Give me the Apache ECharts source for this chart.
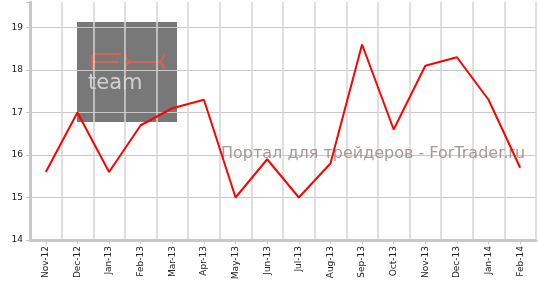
<!DOCTYPE html>
<html><head><meta charset="utf-8">
<script src="https://cdn.jsdelivr.net/npm/echarts@6/dist/echarts.min.js"></script>
<style>html,body{margin:0;padding:0;background:#fff}#c{width:538px;height:283px}</style>
</head><body><div id="c"></div>
<script>
var categories = ['Nov-12','Dec-12','Jan-13','Feb-13','Mar-13','Apr-13','May-13','Jun-13','Jul-13','Aug-13','Sep-13','Oct-13','Nov-13','Dec-13','Jan-14','Feb-14'];
var values = [15.6, 17.0, 15.6, 16.7, 17.1, 17.3, 15.0, 15.9, 15.0, 15.8, 18.6, 16.6, 18.1, 18.3, 17.3, 15.7];
var yTicks = [14, 15, 16, 17, 18, 19];
var watermarkText = 'Портал для трейдеров - ForTrader.ru';

var chart = echarts.init(document.getElementById('c'), null, {renderer: 'canvas'});
var font = 'DejaVu Sans';
var logoColor = '#d8634f';
function logoPath(pts) {
  return {type: 'polyline', shape: {points: pts},
    style: {fill: null, stroke: logoColor, lineWidth: 2, lineJoin: 'round'}};
}
function renderLogo() {
  return {
    type: 'group',
    children: [
      {type: 'rect', shape: {x: 77, y: 22, width: 100, height: 100}, style: {fill: '#787878'}},
      logoPath([[92, 69], [92, 57], [93, 55], [95, 54], [121, 54]]),
      logoPath([[92, 62], [119, 62]]),
      logoPath([[125, 54], [126, 58], [128, 61], [132, 62], [157, 62], [161, 61], [163, 58], [164, 54]]),
      logoPath([[125, 69], [126, 65], [128, 63], [132, 62]]),
      logoPath([[164, 69], [163, 65], [161, 63], [157, 62]]),
      {type: 'text', x: 88, y: 73, style: {text: 'team', font: '21px "DejaVu Sans"', fill: '#d0d0d0', letterSpacing: 3}}
    ]
  };
}
chart.setOption({
  animation: false,
  grid: {left: 30, right: 2, top: 2, bottom: 43, containLabel: false, z: 3},
  xAxis: {
    type: 'category', data: categories, boundaryGap: true, z: 3,
    axisLine: {lineStyle: {color: '#c8c8c8', width: 3}},
    axisTick: {show: true, alignWithLabel: true, length: 4, lineStyle: {color: '#c8c8c8'}},
    axisLabel: {rotate: 90, fontFamily: font, fontSize: 9, color: '#222', margin: 6, interval: 0},
    splitLine: {show: true, interval: 0, lineStyle: {color: '#d4d4d4', width: 1.5}}
  },
  yAxis: {
    type: 'value', min: yTicks[0], max: 19.6, interval: 1, z: 3,
    axisLine: {show: true, lineStyle: {color: '#c8c8c8', width: 3}},
    axisTick: {show: true, length: 4, lineStyle: {color: '#c8c8c8'}},
    axisLabel: {fontFamily: font, fontSize: 9, color: '#222', margin: 7,
      formatter: function (v) { return yTicks.indexOf(v) >= 0 ? String(v) : ''; }},
    splitLine: {show: true, lineStyle: {color: ['#c8c8c8','#c8c8c8','#c8c8c8','#c8c8c8','#c8c8c8','#c8c8c8','rgba(0,0,0,0)'], width: 1}}
  },
  graphic: {
    elements: [
      {type: 'text', z: 4, left: 221, top: 146, style: {text: watermarkText, font: '16px "DejaVu Sans"', fill: 'rgba(150,135,135,0.85)'}}
    ]
  },
  series: [
    {type: 'custom', z: 1, silent: true, data: [[0, 17]], renderItem: renderLogo, clip: false},
    {type: 'line', data: values, symbol: 'none', z: 5, lineStyle: {color: '#ff0000', width: 2}}
  ]
});
</script></body></html>
